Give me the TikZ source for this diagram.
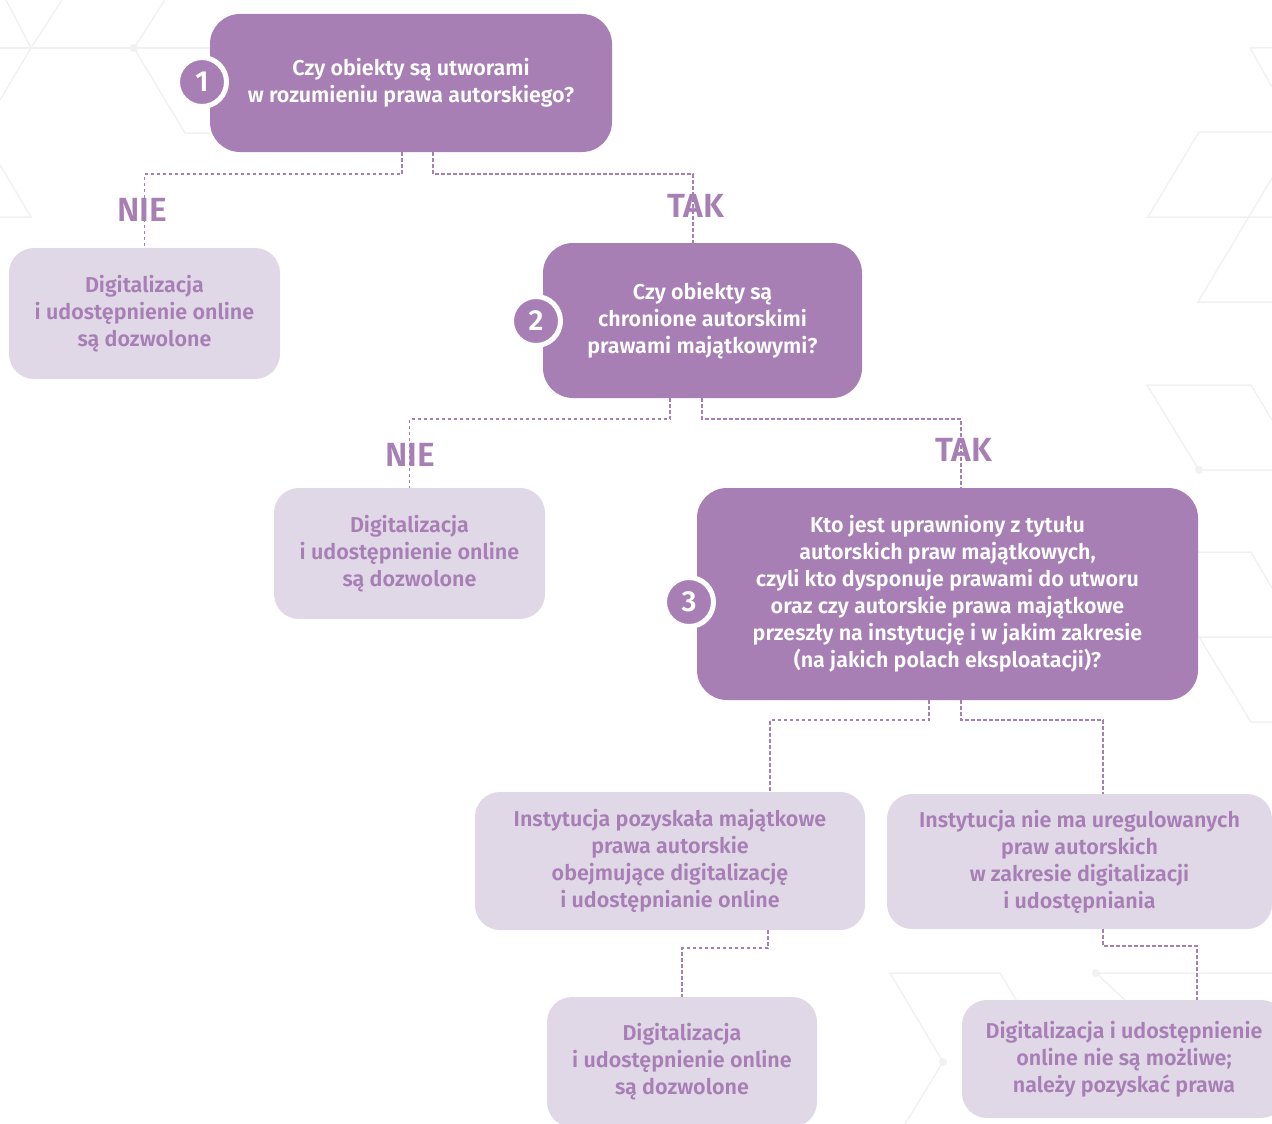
\documentclass[tikz,border=0pt]{standalone}
\usepackage{fontspec}
\setmainfont{Fira Sans}[BoldFont={Fira Sans SemiBold}]
\definecolor{qpurple}{HTML}{A77FB5}
\definecolor{alilac}{HTML}{E0D8E6}
\definecolor{hexgray}{HTML}{F1F1F1}

\begin{document}
\begin{tikzpicture}[
			x=1pt, y=-1pt,
			font=\bfseries\fontsize{21.5}{27}\selectfont,
			question/.style={fill=qpurple, rounded corners=30pt, text=white, align=center, inner sep=0pt},
			answer/.style={fill=alilac, rounded corners=25pt, text=qpurple, align=center, inner sep=0pt},
			badge/.style={circle, fill=qpurple, draw=white, line width=5pt, minimum size=49pt, inner sep=0pt, text=white, font=\bfseries\fontsize{29}{29}\selectfont},
			branch/.style={text=qpurple, inner sep=0pt, font=\bfseries\fontsize{33.5}{33.5}\selectfont},
			conn/.style={draw=qpurple, line width=1.6pt, dash pattern=on 3.5pt off 2.5pt},
			hexline/.style={draw=hexgray, line width=1.5pt},
			]

			\useasboundingbox (0,0) rectangle (1272,1124);

			% faint lattice in the background
			\draw [hexline] (0,48) -- (210,48);
			\draw [hexline] (6,0) -- (31,48) -- (0,100);
			\draw [hexline] (62,0) -- (31,48);
			\draw [hexline] (165,0) -- (134,48) -- (185,133) -- (210,133);
			\draw [hexline] (0,165) -- (31,217) -- (0,217);
			\draw [hexline] (1272,48) -- (1250,48) -- (1272,87);
			\draw [hexline] (1272,132) -- (1199,132) -- (1148,217) -- (1272,217);
			\draw [hexline] (1272,178) -- (1198,302) -- (1272,302);
			\draw [hexline] (1272,420) -- (1251,385) -- (1147,385) -- (1199,470) -- (1272,470);
			\draw [hexline] (1272,588) -- (1251,552) -- (1198,552);
			\draw [hexline] (1272,637) -- (1199,637) -- (1251,722) -- (1272,722);
			\draw [hexline] (905,1124) -- (943,1062) -- (890,973) -- (1000,973) -- (1040,1040);
			\draw [hexline] (1272,973) -- (1096,973) -- (1125,1000);
			\fill [hexgray] (134,48) circle (4) (1199,470) circle (4) (943,1062) circle (4) (1096,973) circle (4);

			% questions
			\node [question, minimum width=402pt, minimum height=138pt] (q1) at (411,83) {Czy obiekty są utworami\\w rozumieniu prawa autorskiego?};
			\node [question, minimum width=319pt, minimum height=155pt] (q2) at (702.5,320.5) {Czy obiekty są\\chronione autorskimi\\prawami majątkowymi?};
			\node [question, minimum width=501pt, minimum height=212pt] (q3) at (947.5,594) {Kto jest uprawniony z tytułu\\autorskich praw majątkowych,\\czyli kto dysponuje prawami do utworu\\oraz czy autorskie prawa majątkowe\\przeszły na instytucję i w jakim zakresie\\(na jakich polach eksploatacji)?};

			% answers
			\node [answer, minimum width=271pt, minimum height=131pt] (a1) at (144.5,313.5) {Digitalizacja\\i udostępnienie online\\są dozwolone};
			\node [answer, minimum width=271pt, minimum height=131pt] (a2) at (409.5,553.5) {Digitalizacja\\i udostępnienie online\\są dozwolone};
			\node [answer, minimum width=390pt, minimum height=138pt] (c1) at (670,861) {Instytucja pozyskała majątkowe\\prawa autorskie\\obejmujące digitalizację\\i udostępnianie online};
			\node [answer, minimum width=385pt, minimum height=135pt] (c2) at (1079.5,861.5) {Instytucja nie ma uregulowanych\\praw autorskich\\w zakresie digitalizacji\\i udostępniania};
			\node [answer, minimum width=270pt, minimum height=130pt] (e1) at (682,1062) {Digitalizacja\\i udostępnienie online\\są dozwolone};
			\node [answer, minimum width=324pt, minimum height=118pt] (e2) at (1124,1059) {Digitalizacja i udostępnienie\\online nie są możliwe;\\należy pozyskać prawa};

			% connectors
			\draw [conn] ([xshift=-9pt]q1.south) |- ++(-30,22) -| (a1.north);
			\draw [conn] ([xshift=22pt]q1.south) |- ++(30,22) -| ([xshift=-9.5pt]q2.north);
			\draw [conn] ([xshift=-32.5pt]q2.south) |- ++(-30,21) -| (a2.north);
			\draw [conn] ([xshift=-0.5pt]q2.south) |- ++(30,21) -| ([xshift=13.5pt]q3.north);
			\draw [conn] ([xshift=-18.5pt]q3.south) |- ++(-30,20) -| ([xshift=100pt]c1.north);
			\draw [conn] ([xshift=13.5pt]q3.south) |- ++(30,20) -| ([xshift=23.5pt]c2.north);
			\draw [conn] ([xshift=98pt]c1.south) |- ++(-30,18) -| (e1.north);
			\draw [conn] ([xshift=23.5pt]c2.south) |- ++(30,17) -| ([xshift=73pt]e2.north);

			% branch labels
			\node [branch] (nie1) at (142,210) {NIE};
			\node [branch] (tak1) at (696,206) {TAK};
			\node [branch] (nie2) at (410,455) {NIE};
			\node [branch] (tak2) at (964,450) {TAK};

			% step badges
			\node [badge] (n1) at (202,82) {1};
			\node [badge] (n2) at (536,321) {2};
			\node [badge] (n3) at (689,602) {3};

		\end{tikzpicture}
\end{document}
